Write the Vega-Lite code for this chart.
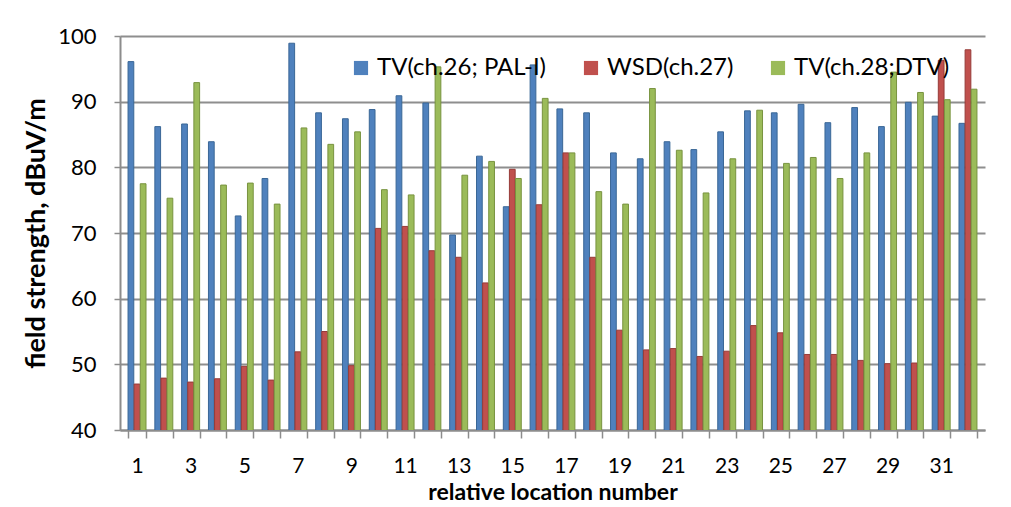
{
  "$schema": "https://vega.github.io/schema/vega-lite/v6.json",
  "autosize": {"type": "none"},
  "width": 865,
  "height": 394,
  "padding": {"left": 120, "top": 36, "right": 26, "bottom": 77},
  "background": "white",
  "config": {
    "font": "Lato",
    "view": {"stroke": null},
    "axis": {"labelFont": "Lato", "titleFont": "Lato", "labelColor": "black", "titleColor": "black"},
    "legend": {"labelFont": "Lato"}
  },
  "data": {
    "values": [
      {"loc": 1, "series": "TV(ch.26; PAL-I)", "v": 96.1},
      {"loc": 1, "series": "WSD(ch.27)", "v": 47.0},
      {"loc": 1, "series": "TV(ch.28;DTV)", "v": 77.5},
      {"loc": 2, "series": "TV(ch.26; PAL-I)", "v": 86.2},
      {"loc": 2, "series": "WSD(ch.27)", "v": 47.9},
      {"loc": 2, "series": "TV(ch.28;DTV)", "v": 75.3},
      {"loc": 3, "series": "TV(ch.26; PAL-I)", "v": 86.6},
      {"loc": 3, "series": "WSD(ch.27)", "v": 47.3},
      {"loc": 3, "series": "TV(ch.28;DTV)", "v": 92.9},
      {"loc": 4, "series": "TV(ch.26; PAL-I)", "v": 83.9},
      {"loc": 4, "series": "WSD(ch.27)", "v": 47.8},
      {"loc": 4, "series": "TV(ch.28;DTV)", "v": 77.3},
      {"loc": 5, "series": "TV(ch.26; PAL-I)", "v": 72.6},
      {"loc": 5, "series": "WSD(ch.27)", "v": 49.7},
      {"loc": 5, "series": "TV(ch.28;DTV)", "v": 77.6},
      {"loc": 6, "series": "TV(ch.26; PAL-I)", "v": 78.3},
      {"loc": 6, "series": "WSD(ch.27)", "v": 47.6},
      {"loc": 6, "series": "TV(ch.28;DTV)", "v": 74.4},
      {"loc": 7, "series": "TV(ch.26; PAL-I)", "v": 98.9},
      {"loc": 7, "series": "WSD(ch.27)", "v": 51.9},
      {"loc": 7, "series": "TV(ch.28;DTV)", "v": 86.0},
      {"loc": 8, "series": "TV(ch.26; PAL-I)", "v": 88.3},
      {"loc": 8, "series": "WSD(ch.27)", "v": 55.0},
      {"loc": 8, "series": "TV(ch.28;DTV)", "v": 83.5},
      {"loc": 9, "series": "TV(ch.26; PAL-I)", "v": 87.4},
      {"loc": 9, "series": "WSD(ch.27)", "v": 49.8},
      {"loc": 9, "series": "TV(ch.28;DTV)", "v": 85.4},
      {"loc": 10, "series": "TV(ch.26; PAL-I)", "v": 88.8},
      {"loc": 10, "series": "WSD(ch.27)", "v": 70.7},
      {"loc": 10, "series": "TV(ch.28;DTV)", "v": 76.6},
      {"loc": 11, "series": "TV(ch.26; PAL-I)", "v": 90.9},
      {"loc": 11, "series": "WSD(ch.27)", "v": 71.0},
      {"loc": 11, "series": "TV(ch.28;DTV)", "v": 75.8},
      {"loc": 12, "series": "TV(ch.26; PAL-I)", "v": 89.8},
      {"loc": 12, "series": "WSD(ch.27)", "v": 67.3},
      {"loc": 12, "series": "TV(ch.28;DTV)", "v": 95.3},
      {"loc": 13, "series": "TV(ch.26; PAL-I)", "v": 69.7},
      {"loc": 13, "series": "WSD(ch.27)", "v": 66.3},
      {"loc": 13, "series": "TV(ch.28;DTV)", "v": 78.8},
      {"loc": 14, "series": "TV(ch.26; PAL-I)", "v": 81.7},
      {"loc": 14, "series": "WSD(ch.27)", "v": 62.4},
      {"loc": 14, "series": "TV(ch.28;DTV)", "v": 80.9},
      {"loc": 15, "series": "TV(ch.26; PAL-I)", "v": 74.0},
      {"loc": 15, "series": "WSD(ch.27)", "v": 79.7},
      {"loc": 15, "series": "TV(ch.28;DTV)", "v": 78.3},
      {"loc": 16, "series": "TV(ch.26; PAL-I)", "v": 95.6},
      {"loc": 16, "series": "WSD(ch.27)", "v": 74.3},
      {"loc": 16, "series": "TV(ch.28;DTV)", "v": 90.5},
      {"loc": 17, "series": "TV(ch.26; PAL-I)", "v": 88.9},
      {"loc": 17, "series": "WSD(ch.27)", "v": 82.2},
      {"loc": 17, "series": "TV(ch.28;DTV)", "v": 82.2},
      {"loc": 18, "series": "TV(ch.26; PAL-I)", "v": 88.3},
      {"loc": 18, "series": "WSD(ch.27)", "v": 66.3},
      {"loc": 18, "series": "TV(ch.28;DTV)", "v": 76.3},
      {"loc": 19, "series": "TV(ch.26; PAL-I)", "v": 82.2},
      {"loc": 19, "series": "WSD(ch.27)", "v": 55.2},
      {"loc": 19, "series": "TV(ch.28;DTV)", "v": 74.4},
      {"loc": 20, "series": "TV(ch.26; PAL-I)", "v": 81.3},
      {"loc": 20, "series": "WSD(ch.27)", "v": 52.2},
      {"loc": 20, "series": "TV(ch.28;DTV)", "v": 92.0},
      {"loc": 21, "series": "TV(ch.26; PAL-I)", "v": 83.9},
      {"loc": 21, "series": "WSD(ch.27)", "v": 52.4},
      {"loc": 21, "series": "TV(ch.28;DTV)", "v": 82.6},
      {"loc": 22, "series": "TV(ch.26; PAL-I)", "v": 82.7},
      {"loc": 22, "series": "WSD(ch.27)", "v": 51.2},
      {"loc": 22, "series": "TV(ch.28;DTV)", "v": 76.1},
      {"loc": 23, "series": "TV(ch.26; PAL-I)", "v": 85.4},
      {"loc": 23, "series": "WSD(ch.27)", "v": 52.0},
      {"loc": 23, "series": "TV(ch.28;DTV)", "v": 81.3},
      {"loc": 24, "series": "TV(ch.26; PAL-I)", "v": 88.6},
      {"loc": 24, "series": "WSD(ch.27)", "v": 55.9},
      {"loc": 24, "series": "TV(ch.28;DTV)", "v": 88.7},
      {"loc": 25, "series": "TV(ch.26; PAL-I)", "v": 88.3},
      {"loc": 25, "series": "WSD(ch.27)", "v": 54.8},
      {"loc": 25, "series": "TV(ch.28;DTV)", "v": 80.6},
      {"loc": 26, "series": "TV(ch.26; PAL-I)", "v": 89.6},
      {"loc": 26, "series": "WSD(ch.27)", "v": 51.5},
      {"loc": 26, "series": "TV(ch.28;DTV)", "v": 81.5},
      {"loc": 27, "series": "TV(ch.26; PAL-I)", "v": 86.8},
      {"loc": 27, "series": "WSD(ch.27)", "v": 51.5},
      {"loc": 27, "series": "TV(ch.28;DTV)", "v": 78.3},
      {"loc": 28, "series": "TV(ch.26; PAL-I)", "v": 89.1},
      {"loc": 28, "series": "WSD(ch.27)", "v": 50.6},
      {"loc": 28, "series": "TV(ch.28;DTV)", "v": 82.2},
      {"loc": 29, "series": "TV(ch.26; PAL-I)", "v": 86.2},
      {"loc": 29, "series": "WSD(ch.27)", "v": 50.1},
      {"loc": 29, "series": "TV(ch.28;DTV)", "v": 94.5},
      {"loc": 30, "series": "TV(ch.26; PAL-I)", "v": 89.9},
      {"loc": 30, "series": "WSD(ch.27)", "v": 50.2},
      {"loc": 30, "series": "TV(ch.28;DTV)", "v": 91.4},
      {"loc": 31, "series": "TV(ch.26; PAL-I)", "v": 87.8},
      {"loc": 31, "series": "WSD(ch.27)", "v": 96.3},
      {"loc": 31, "series": "TV(ch.28;DTV)", "v": 90.3},
      {"loc": 32, "series": "TV(ch.26; PAL-I)", "v": 86.7},
      {"loc": 32, "series": "WSD(ch.27)", "v": 97.9},
      {"loc": 32, "series": "TV(ch.28;DTV)", "v": 91.9}
    ]
  },
  "mark": {"type": "bar", "strokeWidth": 1, "clip": true},
  "encoding": {
    "x": {
      "field": "loc",
      "type": "ordinal",
      "scale": {"paddingInner": 0.33, "paddingOuter": 0.3},
      "axis": {
        "title": "relative location number",
        "titleFontSize": 23,
        "titleFontWeight": "bold",
        "titlePadding": 5,
        "labelFontSize": 21,
        "labelAngle": 0,
        "labelPadding": 17,
        "labelExpr": "datum.value % 2 == 1 ? datum.label : ''",
        "tickBand": "extent",
        "tickSize": 8,
        "tickColor": "#8c8c8c",
        "tickWidth": 1.5,
        "domainColor": "#8c8c8c",
        "domainWidth": 2,
        "grid": false
      }
    },
    "xOffset": {
      "field": "series",
      "type": "nominal",
      "sort": ["TV(ch.26; PAL-I)", "WSD(ch.27)", "TV(ch.28;DTV)"],
      "scale": {"paddingInner": 0.06}
    },
    "y": {
      "field": "v",
      "type": "quantitative",
      "scale": {"domain": [40, 100], "zero": false, "nice": false},
      "axis": {
        "title": "field strength, dBuV/m",
        "titleFontSize": 27,
        "titleFontWeight": "bold",
        "titlePadding": 7,
        "labelFontSize": 22,
        "labelPadding": 18,
        "values": [40, 50, 60, 70, 80, 90, 100],
        "tickSize": 6,
        "tickColor": "#8c8c8c",
        "tickWidth": 1.5,
        "domainColor": "#8c8c8c",
        "domainWidth": 2,
        "gridColor": "#8e8e8e",
        "gridWidth": 2
      }
    },
    "color": {
      "field": "series",
      "type": "nominal",
      "sort": ["TV(ch.26; PAL-I)", "WSD(ch.27)", "TV(ch.28;DTV)"],
      "scale": {"domain": ["TV(ch.26; PAL-I)", "WSD(ch.27)", "TV(ch.28;DTV)"], "range": ["#4F81BD", "#C0504D", "#9BBB59"]},
      "legend": {
        "title": null,
        "orient": "none",
        "legendX": 229,
        "legendY": 20,
        "direction": "horizontal",
        "symbolType": "square",
        "symbolSize": 200,
        "symbolStrokeWidth": 0,
        "labelFontSize": 24,
        "labelLimit": 400,
        "labelColor": "black",
        "columnPadding": 32,
        "symbolOffset": 0
      }
    },
    "stroke": {
      "field": "series",
      "type": "nominal",
      "scale": {"domain": ["TV(ch.26; PAL-I)", "WSD(ch.27)", "TV(ch.28;DTV)"], "range": ["#3a6796", "#963b38", "#78933f"]},
      "legend": null
    }
  }
}
